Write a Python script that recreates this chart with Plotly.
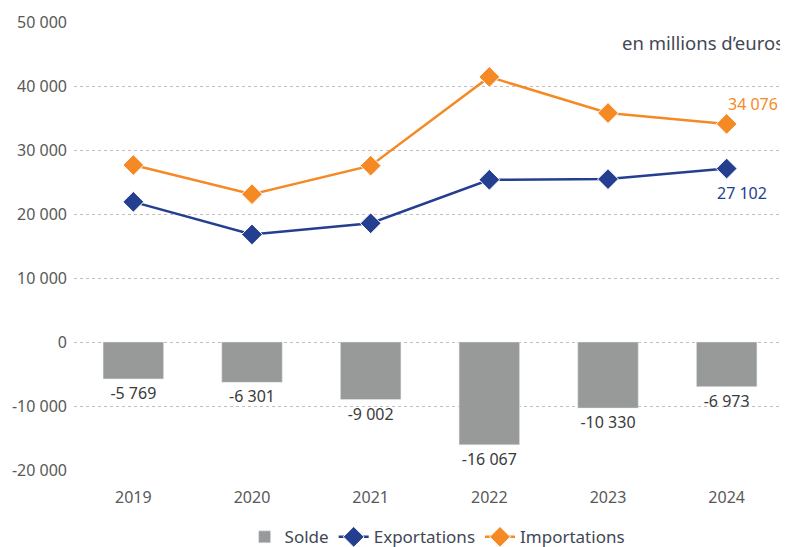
import plotly.graph_objects as go

years = ["2019", "2020", "2021", "2022", "2023", "2024"]
solde = [-5769, -6301, -9002, -16067, -10330, -6973]
exportations = [21900, 16800, 18550, 25350, 25450, 27102]
importations = [27650, 23100, 27550, 41420, 35780, 34076]
tick_vals = [-20000, -10000, 0, 10000, 20000, 30000, 40000, 50000]

COLORS = {"solde": "#989A9A", "exp": "#243F8F", "imp": "#F58A25",
          "text": "#595959", "note": "#3F4756", "grid": "#BFBFBF"}


def fr(v):
    """Format a number with a space as thousands separator."""
    return f"{v:,}".replace(",", " ")


tick_text = [fr(v) for v in tick_vals]
pos = list(range(len(years)))
font = "Noto Sans"

fig = go.Figure()
fig.add_trace(go.Bar(x=pos, y=solde, name="Solde", marker_color=COLORS["solde"],
                     width=0.51, text=[fr(v) for v in solde], textposition="outside",
                     textfont=dict(size=16, color="#3A3A3A")))
fig.add_trace(go.Scatter(x=pos, y=exportations, name="Exportations", mode="lines+markers",
                         line=dict(color=COLORS["exp"], width=2.5),
                         marker=dict(symbol="diamond", size=16, color=COLORS["exp"],
                                     line=dict(color="white", width=1))))
fig.add_trace(go.Scatter(x=pos, y=importations, name="Importations", mode="lines+markers",
                         line=dict(color=COLORS["imp"], width=2.5),
                         marker=dict(symbol="diamond", size=16, color=COLORS["imp"],
                                     line=dict(color="white", width=1))))

fig.add_annotation(x=pos[-1], y=importations[-1], text=fr(importations[-1]), showarrow=False,
                   xshift=26, yshift=20, font=dict(size=16, color=COLORS["imp"]))
fig.add_annotation(x=pos[-1], y=exportations[-1], text=fr(exportations[-1]), showarrow=False,
                   xshift=15, yshift=-24, font=dict(size=16, color=COLORS["exp"]))
fig.add_annotation(xref="paper", yref="paper", x=1.0, y=0.955, xanchor="right", yanchor="middle",
                   text="en millions d’euros", showarrow=False,
                   font=dict(size=18.5, color=COLORS["note"]))

# the page body adds an 8px margin, so the figure is made 8px smaller
fig.update_layout(
    width=780, height=539,
    margin=dict(l=66, r=2, t=14, b=77),
    plot_bgcolor="white", paper_bgcolor="white",
    font=dict(family=font, color=COLORS["text"], size=16),
    legend=dict(orientation="h", x=0.51, xanchor="center", yref="container", y=0.018,
                yanchor="middle", font=dict(size=17, color=COLORS["note"])),
    xaxis=dict(range=[-0.5, 5.5], tickvals=pos, ticktext=years, showgrid=False,
               zeroline=False, ticks="", ticklabelstandoff=16,
               tickfont=dict(size=16, color=COLORS["text"])),
    yaxis=dict(range=[-20000, 50000], tickvals=tick_vals, ticktext=tick_text,
               showgrid=True, gridcolor=COLORS["grid"], griddash="dot", gridwidth=1,
               zeroline=False, ticks="", ticklabelstandoff=6,
               tickfont=dict(size=16, color=COLORS["text"])),
)

fig.write_html("out.html")
